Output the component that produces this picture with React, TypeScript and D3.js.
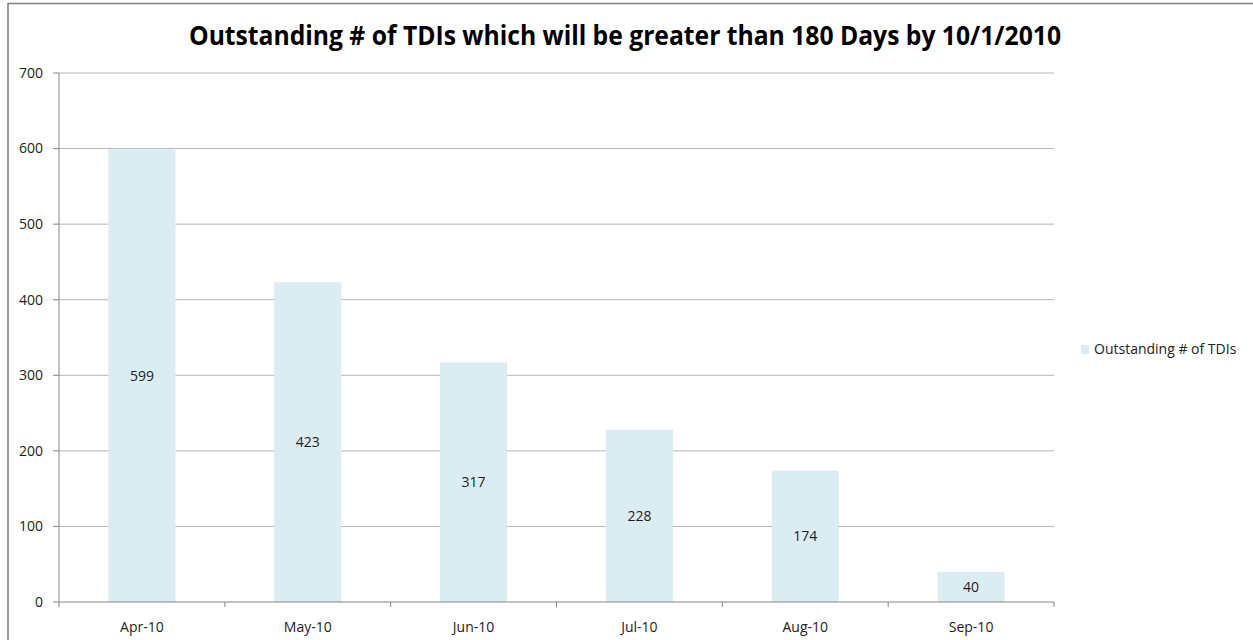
import React from "react";
import * as d3 from "d3";

const categories = ["Apr-10", "May-10", "Jun-10", "Jul-10", "Aug-10", "Sep-10"];
const values = [599, 423, 317, 228, 174, 40];
const yTicks = [0, 100, 200, 300, 400, 500, 600, 700];
const seriesName = "Outstanding # of TDIs";
const title = "Outstanding # of TDIs which will be greater than 180 Days by 10/1/2010";

const W = 1253;
const H = 640;
const FONT = "'Open Sans', 'Noto Sans', sans-serif";
const BAR = "#dbecf2";

export default function App() {
  const x = d3.scaleBand<string>().domain(categories).range([59, 1054]).padding(0);
  const y = d3.scaleLinear().domain([0, 700]).range([602, 73]);
  const bw = x.bandwidth() / 2.47;
  const boundaries = [...categories.map((c) => x(c) as number), 1054];

  return (
    <svg
      width={W}
      height={H}
      style={{ position: "absolute", left: 0, top: 0, background: "#fff" }}
      fontFamily={FONT}
    >
      <rect x={0} y={0} width={W} height={H} fill="#fff" />
      <rect x={8} y={3.5} width={W + 20} height={H + 20} fill="none" stroke="#7f7f7f" strokeWidth={1.5} />
      <text
        x={625}
        y={45}
        textAnchor="middle"
        fontSize={26}
        fontWeight="bold"
        fill="#000"
        textLength={872}
        lengthAdjust="spacingAndGlyphs"
      >
        {title}
      </text>

      {yTicks.map((t) => (
        <g key={t}>
          {t > 0 && (
            <line x1={59} x2={1054} y1={y(t)} y2={y(t)} stroke="#b5b5b5" strokeWidth={1} />
          )}
          <line x1={53} x2={59} y1={y(t)} y2={y(t)} stroke="#868686" strokeWidth={1} />
          <text x={43} y={y(t)} dy="0.35em" textAnchor="end" fontSize={14} fill="#222">
            {t}
          </text>
        </g>
      ))}

      {categories.map((c, i) => {
        const cx = (x(c) as number) + x.bandwidth() / 2;
        return (
          <g key={c}>
            <rect x={cx - bw / 2} y={y(values[i])} width={bw} height={y(0) - y(values[i])} fill={BAR} />
            <text x={cx} y={y(values[i] / 2)} dy="0.35em" textAnchor="middle" fontSize={14} fill="#222">
              {values[i]}
            </text>
            <text x={cx} y={632} textAnchor="middle" fontSize={14} fill="#222">
              {c}
            </text>
          </g>
        );
      })}

      <line x1={59} x2={59} y1={73} y2={602} stroke="#868686" strokeWidth={1} />
      <line x1={59} x2={1054} y1={602} y2={602} stroke="#868686" strokeWidth={1} />
      {boundaries.map((b, i) => (
        <line key={i} x1={b} x2={b} y1={602} y2={607} stroke="#868686" strokeWidth={1} />
      ))}

      <rect x={1081} y={345} width={8} height={9} fill={BAR} />
      <text x={1094} y={354} fontSize={14} fill="#222">
        {seriesName}
      </text>
    </svg>
  );
}
